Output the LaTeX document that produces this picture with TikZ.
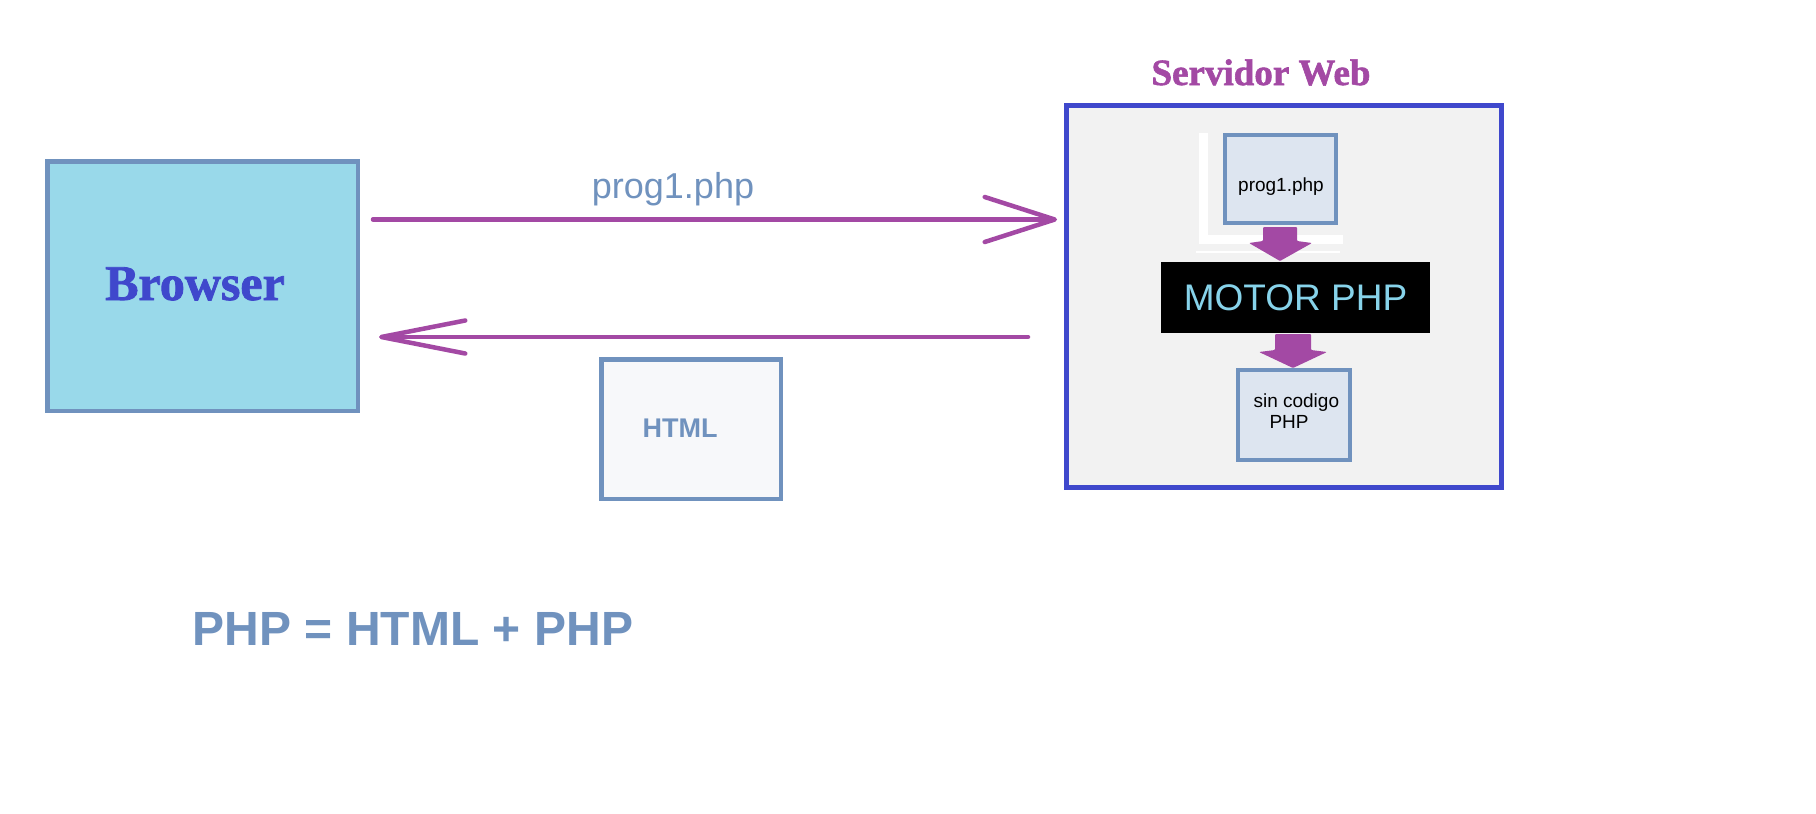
\documentclass[tikz,border=0pt]{standalone}
\usepackage{fontspec}
\setmainfont{Liberation Sans}
\newfontface\serifbold{Liberation Serif Bold}[FakeBold=1.6]
\usetikzlibrary{arrows.meta}
\definecolor{paintpurple}{HTML}{A349A4}
\definecolor{paintindigo}{HTML}{3F48CC}
\definecolor{paintturq}{HTML}{99D9EA}
\definecolor{bluegrey}{HTML}{7092BE}
\definecolor{docfill}{HTML}{DDE5F0}
\definecolor{htmlfill}{HTML}{F7F8FA}
\definecolor{srvfill}{HTML}{F2F2F2}
\definecolor{motortext}{HTML}{87D3EA}
\begin{document}
\begin{tikzpicture}[x=1pt,y=-1pt,
  box/.style={draw=bluegrey, line width=4.5pt, inner sep=0pt, outer sep=0pt},
  doc/.style={draw=bluegrey, line width=4pt, fill=docfill, inner sep=0pt, outer sep=0pt},
  flow/.style={paintpurple, line width=4.5pt, line cap=round},
  blockarrow/.style={fill=paintpurple, rounded corners=1pt}]
\useasboundingbox[fill=white] (0,0) rectangle (1816,814);
%%% the client side
\node[box, fill=paintturq, minimum width=310.5pt, minimum height=249.5pt] (browser) at (202.5,286) {};
\node[anchor=base, text=paintindigo, font=\serifbold\fontsize{50}{50}\selectfont] (browserlbl) at (195,300) {Browser};
%%% the server side
\node[anchor=base, text=paintpurple, font=\serifbold\fontsize{37}{37}\selectfont] (srvlbl) at (1261,85) {Servidor Web};
\node[draw=paintindigo, line width=5pt, fill=srvfill, minimum width=435pt, minimum height=382pt, inner sep=0pt, outer sep=0pt] (server) at (1284,296.5) {};
% white strips behind the file
\fill[white] (1199,133) rectangle (1208,244);
\fill[white] (1199,235) rectangle (1343,244);
\fill[white] (1196,251) rectangle (1340,253);
\node[doc, minimum width=111pt, minimum height=88pt] (prog1) at (1280.5,179) {};
\node[anchor=base, font=\fontsize{19}{21}\selectfont] (prog1txt) at (1281,191) {prog1.php};
\node[fill=black, text=motortext, minimum width=269pt, minimum height=71pt, inner sep=0pt, outer sep=0pt, font=\fontsize{37}{37}\selectfont] (motor) at (1295.5,297.5) {MOTOR PHP};
\node[doc, minimum width=112pt, minimum height=90pt] (plain) at (1294,415) {};
\node[anchor=base west, font=\fontsize{19}{21}\selectfont] (plaintxt) at (1250,407) {sin codigo};
\node[anchor=base west, font=\fontsize{19}{21}\selectfont] (plaintxtb) at (1266,428) {PHP};
% block arrows
\fill[blockarrow, shift={(prog1.south)}] (-17.5,4) -- (16.5,4) -- (16.5,18) -- (31.5,20) -- (-0.5,38) -- (-31.5,20) -- (-17.5,18) -- cycle;
\fill[blockarrow, shift={(motor.south)}] (-20.5,1) -- (15.5,1) -- (15.5,17) -- (31.5,19) -- (-2.5,35) -- (-36.5,19) -- (-20.5,17) -- cycle;
%%% request and answer
\coordinate (reqstart) at (373,219.5);
\coordinate (reqend) at (1057,219.5);
\coordinate (respstart) at (1028,337);
\coordinate (respend) at (379,337);
\draw[flow, -{Straight Barb[length=70pt, width=45pt, round]}] (reqstart) -- (reqend);
\draw[flow, -{Straight Barb[length=84pt, width=33pt, round]}] (respstart) -- (respend);
\node[anchor=base, text=bluegrey, font=\fontsize{36}{36}\selectfont] (reqlbl) at (673,198) {prog1.php};
\node[box, fill=htmlfill, minimum width=179.5pt, minimum height=139.5pt] (htmldoc) at (691,429) {};
\node[anchor=base, text=bluegrey, font=\bfseries\fontsize{27}{27}\selectfont] (htmllbl) at (680,437) {HTML};
%%% the formula
\node[anchor=base, text=bluegrey, font=\bfseries\fontsize{48}{48}\selectfont] (formula) at (413,645) {PHP = HTML + PHP};
\end{tikzpicture}
\end{document}
